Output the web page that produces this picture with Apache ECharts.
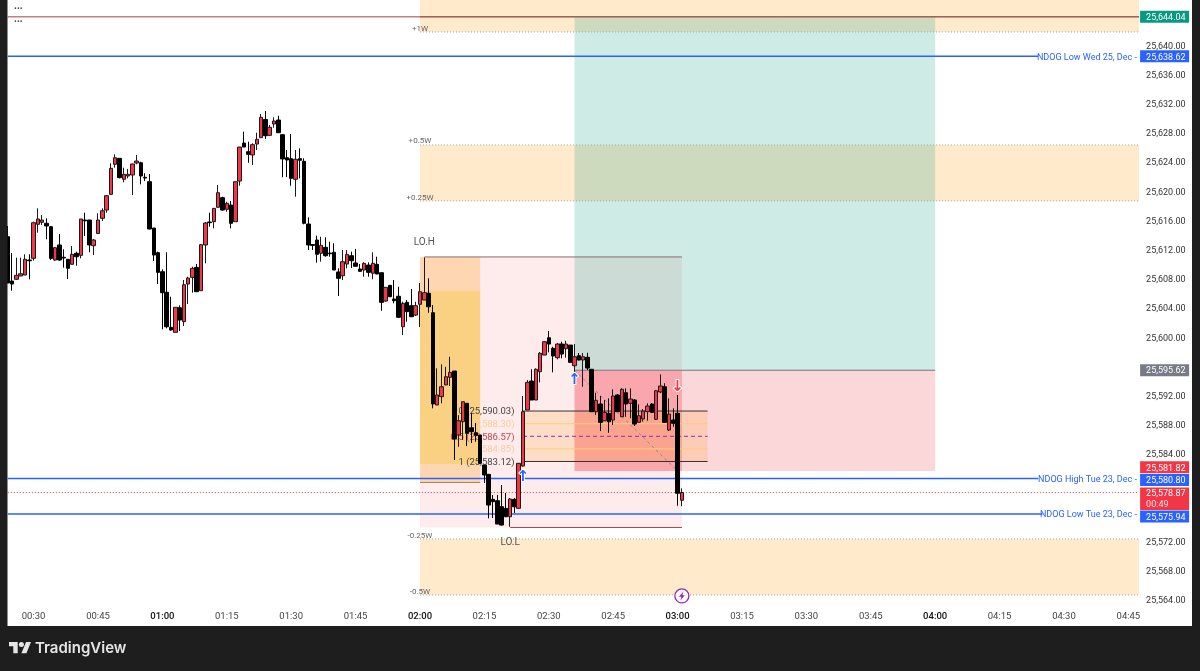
<!DOCTYPE html>
<html><head><meta charset="utf-8">
<style>html,body{margin:0;padding:0;background:#1e1e1e}#c{width:1200px;height:671px}</style>
<script src="https://cdn.jsdelivr.net/npm/echarts@6/dist/echarts.min.js"></script>
</head><body><div id="c"></div>
<script>
// One-minute slots on the time axis, 00:24 to 04:47
const firstMinute = 24, slotCount = 264;
const timeSlots = [];
for (let i = 0; i < slotCount; i++) {
  const m = firstMinute + i;
  timeSlots.push(String(Math.floor(m / 60)).padStart(2, '0') + ':' + String(m % 60).padStart(2, '0'));
}
const timeTicks = ['00:30','00:45','01:00','01:15','01:30','01:45','02:00','02:15','02:30','02:45','03:00','03:15','03:30','03:45','04:00','04:15','04:30','04:45'];
const priceTicks = [25564,25568,25572,25584,25588,25592,25600,25604,25608,25612,25616,25620,25624,25628,25632,25636,25640];
const priceMax = 25646.34, priceMin = 25563.46;

// One row per minute from 00:24: open, close, low, high
const ohlc = [
[25613.91,25607.57,25607.57,25615.38],[25607.84,25607.43,25606.51,25611.68],[25608.08,25608.62,25607.98,25611.04],[25608.53,25608.84,25608.53,25611.04],
[25608.66,25610.82,25608.66,25611.50],[25610.72,25610.62,25608.08,25611.50],[25610.95,25615.83,25610.62,25615.97],[25615.61,25616.34,25614.46,25617.80],
[25615.88,25616.20,25615.52,25616.88],[25615.75,25615.38,25613.56,25616.43],[25615.28,25610.95,25610.72,25615.38],[25610.72,25612.41,25610.62,25612.50],
[25612.78,25610.72,25610.62,25614.28],[25611.09,25611.00,25609.67,25612.19],[25610.82,25609.58,25608.12,25610.86],[25610.13,25611.50,25610.13,25612.64],
[25611.64,25611.17,25609.94,25611.86],[25611.36,25616.34,25610.95,25616.34],[25616.20,25616.09,25614.01,25617.20],[25616.20,25612.78,25611.78,25616.20],
[25612.68,25613.46,25611.40,25613.60],[25614.35,25616.20,25614.32,25617.12],[25616.43,25617.47,25616.06,25617.80],[25617.57,25619.53,25617.20,25619.63],
[25619.72,25623.28,25619.63,25623.97],[25623.83,25624.73,25623.37,25625.20],[25624.65,25622.00,25621.91,25624.65],[25621.78,25622.46,25621.37,25623.37],
[25622.23,25622.46,25621.91,25623.19],[25622.37,25623.87,25619.63,25623.94],[25624.01,25624.28,25623.83,25625.11],[25624.05,25622.23,25621.09,25624.19],
[25622.05,25621.95,25621.54,25622.60],[25621.45,25614.97,25614.90,25622.50],[25615.10,25611.40,25610.58,25615.10],[25611.72,25609.03,25607.43,25611.86],
[25609.12,25606.24,25601.22,25609.45],[25606.30,25601.58,25601.36,25611.78],[25601.50,25601.13,25601.03,25605.69],[25600.81,25604.24,25600.81,25604.28],
[25604.18,25602.50,25600.99,25604.51],[25602.27,25607.34,25601.68,25607.98],[25607.43,25608.25,25604.69,25608.43],[25608.35,25609.58,25606.24,25609.80],
[25609.72,25606.38,25606.34,25610.17],[25606.52,25612.82,25606.47,25612.91],[25612.78,25615.79,25610.27,25615.93],[25615.93,25615.84,25615.28,25617.20],
[25615.97,25617.80,25615.06,25617.84],[25617.94,25619.94,25617.91,25620.99],[25619.26,25617.57,25617.47,25619.39],[25617.66,25618.49,25617.34,25618.71],
[25618.25,25615.75,25615.06,25618.80],[25615.97,25621.45,25615.97,25621.45],[25621.54,25626.20,25620.90,25626.20],[25626.75,25626.20,25626.20,25628.30],
[25625.56,25625.20,25624.05,25626.93],[25625.11,25626.52,25623.73,25626.71],[25626.61,25627.26,25625.79,25628.16],[25627.48,25630.27,25627.43,25630.72],
[25629.98,25627.75,25627.30,25631.13],[25627.80,25628.90,25627.71,25629.22],[25629.35,25629.76,25628.85,25630.27],[25629.90,25628.16,25628.12,25630.49],
[25627.89,25624.56,25622.05,25627.89],[25624.73,25624.42,25622.09,25625.79],[25624.60,25621.91,25620.90,25627.98],[25621.78,25624.52,25619.39,25625.79],
[25624.60,25624.38,25621.91,25626.02],[25624.24,25615.75,25615.61,25624.65],[25615.65,25612.78,25612.09,25616.57],[25612.83,25612.72,25612.09,25612.86],
[25613.46,25611.50,25610.35,25614.05],[25611.64,25612.73,25610.49,25613.91],[25612.46,25611.31,25611.17,25613.83],[25611.68,25611.58,25611.17,25613.23],
[25611.78,25609.35,25609.35,25613.01],[25609.08,25608.21,25605.79,25609.58],[25608.57,25610.49,25607.98,25612.09],[25610.17,25611.50,25609.58,25612.09],
[25611.31,25610.62,25609.62,25611.86],[25610.31,25609.86,25609.83,25612.23],[25609.49,25609.17,25609.14,25610.17],[25609.35,25610.27,25608.43,25610.40],
[25610.03,25609.03,25608.43,25610.40],[25608.90,25610.27,25608.08,25611.78],[25610.13,25608.80,25608.80,25611.17],[25608.98,25604.92,25603.77,25608.98],
[25605.10,25606.98,25605.01,25607.02],[25607.25,25605.69,25605.65,25607.30],[25605.38,25605.14,25604.79,25607.98],[25605.75,25602.87,25602.77,25607.06],
[25601.58,25604.79,25600.45,25605.01],[25604.92,25603.64,25602.27,25605.24],[25604.46,25602.95,25602.91,25606.75],[25603.18,25604.46,25603.05,25605.01],
[25604.65,25606.38,25601.54,25607.57],[25605.24,25606.24,25605.24,25611.06],[25606.16,25604.32,25603.50,25608.21],[25603.50,25591.00,25590.40,25604.55],
[25590.86,25592.23,25590.86,25595.88],[25592.00,25593.36,25591.09,25596.43],[25593.60,25594.73,25593.60,25596.10],[25594.65,25595.33,25593.46,25597.47],
[25595.51,25586.20,25583.32,25595.51],[25586.75,25588.70,25585.14,25589.48],[25588.57,25591.31,25586.06,25591.31],[25591.09,25586.98,25585.24,25591.13],
[25587.74,25587.20,25585.65,25589.72],[25587.06,25586.70,25585.83,25588.39],[25586.75,25582.87,25582.84,25586.75],[25582.63,25581.27,25580.17,25582.63],
[25581.36,25577.15,25575.33,25581.40],[25577.93,25577.61,25575.37,25578.53],[25577.75,25574.55,25574.55,25578.53],[25576.92,25574.41,25574.37,25579.89],
[25576.70,25575.55,25575.51,25578.80],[25575.55,25577.98,25574.18,25578.12],[25577.93,25576.92,25576.06,25578.12],[25576.70,25582.87,25576.70,25582.91],
[25582.50,25589.94,25582.40,25592.09],[25590.17,25593.96,25590.17,25594.28],[25594.14,25591.54,25591.54,25595.75],[25591.54,25595.75,25591.54,25595.88],
[25595.42,25597.94,25593.96,25598.12],[25597.70,25599.53,25597.70,25599.62],[25600.07,25599.21,25598.07,25601.00],[25598.62,25597.57,25595.33,25598.84],
[25597.34,25599.21,25597.11,25599.35],[25599.21,25597.84,25597.25,25599.53],[25598.57,25599.21,25597.34,25599.66],[25599.07,25596.70,25596.68,25599.07],
[25596.24,25597.47,25595.42,25599.21],[25597.61,25597.02,25596.95,25597.98],[25597.02,25597.47,25593.36,25597.98],[25597.39,25595.92,25595.65,25598.02],
[25595.75,25589.94,25589.90,25595.79],[25589.94,25591.50,25589.49,25592.54],[25590.99,25588.48,25587.29,25592.09],[25588.70,25589.85,25588.66,25591.54],
[25589.72,25588.57,25587.06,25591.77],[25588.80,25592.09,25588.12,25593.01],[25592.23,25589.94,25589.90,25592.36],[25589.25,25593.01,25589.21,25593.14],
[25592.54,25590.99,25589.25,25593.14],[25591.09,25591.68,25589.03,25593.14],[25591.54,25588.25,25587.98,25591.68],[25588.49,25589.39,25588.39,25590.95],
[25588.94,25590.03,25588.57,25590.31],[25589.94,25590.72,25588.70,25591.09],[25590.99,25589.85,25589.76,25591.13],[25588.90,25592.81,25588.80,25592.91],
[25592.64,25593.46,25592.50,25595.06],[25593.36,25588.48,25588.39,25593.83],[25587.43,25589.62,25587.29,25591.77],[25588.80,25588.35,25587.88,25590.40],
[25589.72,25578.76,25577.06,25592.23],[25577.81,25578.87,25577.00,25579.44]
];

// Named price levels
const weekHigh = 25644.04, ndogWed = 25638.62, entryLevel = 25595.62, stopLevel = 25581.82;
const ndogHigh = 25580.80, lastPrice = 25578.87, ndogLow = 25575.94;
const fibLevels = [25590.03, 25588.30, 25586.57, 25584.85, 25583.12];
const fibNames = ['0', '0.25', '0.5', '0.75', '1'];
const loHigh = 25611.14, loLow = 25574.08;
const sessionInnerTop = 25606.48, sessionInnerBottom = 25582.78, sessionBottom = 25580.25;
const weekZones = [[priceMax, 25641.96], [25626.48, 25618.81], [25572.51, 25564.84]];

const fmt = v => v.toLocaleString('en-US', {minimumFractionDigits: 2, maximumFractionDigits: 2});
const FONT = 'Roboto';
const RED = '#f23645', BLUE = '#2962ff';
const ZONE = 'rgba(255,152,0,0.2)', DOT = '#a8a8a8';

const under = [];
const rect = (from, to, top, bottom, fill) => under.push({k:'rect', from, to, top, bottom, fill});
const line = (from, to, a, b, color, width, dash) => under.push({k:'line', from, to, a, b, color, width, dash});
const text = (list, at, v, t, color, size, align) => list.push({k:'text', at, v, t, color, size, align});

weekZones.forEach(z => rect('02:00', 'END', z[0], z[1], ZONE));
rect('02:00', '03:01', loHigh, loLow, 'rgba(242,54,69,0.1)');
rect('02:36', '04:00', weekHigh, entryLevel, 'rgba(8,153,129,0.2)');
rect('02:36', '04:00', entryLevel, stopLevel, 'rgba(242,54,69,0.2)');
rect('02:36', '03:01', entryLevel, stopLevel, 'rgba(242,54,69,0.22)');
rect('02:00', '02:14', loHigh, sessionBottom, 'rgba(255,152,0,0.25)');
rect('02:00', '02:14', sessionInnerTop, sessionInnerBottom, 'rgba(245,200,60,0.4)');
rect('02:24', '03:07', fibLevels[0], fibLevels[4], 'rgba(255,152,0,0.16)');

[weekZones[0][1], weekZones[1][0], weekZones[1][1], weekZones[2][0], weekZones[2][1]].forEach(v =>
  line('02:00', 'END', v, v, DOT, 1, [1, 2]));
line('00:24', 'END', weekHigh, weekHigh, '#c47f80', 1.5);
line('02:00', 'END', weekHigh, weekHigh, '#8a5a4a', 1);
line('02:36', '04:00', entryLevel, entryLevel, '#77777f', 1);
line('02:01', '03:01', loHigh, loHigh, '#8b6a6a', 1);
line('02:21', '03:01', loLow, loLow, '#a04a50', 1);
line('02:00', '02:14', sessionBottom, sessionBottom, '#a08540', 1);
line('00:24', '04:24', ndogWed, ndogWed, BLUE, 1.5);
line('00:24', '04:24', ndogHigh, ndogHigh, BLUE, 1.5);
line('00:24', '04:25', ndogLow, ndogLow, BLUE, 1.5);
line('00:24', 'END', lastPrice, lastPrice, RED, 1, [1, 2]);
line('02:36', '03:00', entryLevel, stopLevel, '#8a8a8a', 1, [3, 3]);
const fibColors = ['#333', '#ffcc80', '#9c27b0', '#ffcc80', '#333'];
const fibTextColors = ['#444', '#ffcc99', '#c5454f', '#ffcc99', '#444'];
fibLevels.forEach((v, i) => {
  line('02:24', '03:07', v, v, fibColors[i], 1, i === 2 ? [4, 3] : null);
  text(under, '02:22', v, fibNames[i] + ' (' + fmt(v) + ')', fibTextColors[i], 9.5, 'right');
});

text(under, '02:00', 25642.5, '+1W', '#666', 8, 'center');
text(under, '02:00', 25627.16, '+0.5W', '#666', 8, 'center');
text(under, '02:00', 25619.35, '+0.25W', '#666', 8, 'center');
text(under, '02:00', 25573.05, '-0.25W', '#666', 8, 'center');
text(under, '02:00', 25565.37, '-0.5W', '#666', 8, 'center');
text(under, '02:01', 25613.19, 'LO.H', '#555', 10, 'center');
text(under, '02:21', 25572.22, 'LO.L', '#555', 10, 'center');

const over = [];
text(over, '04:47', ndogWed, 'NDOG Low Wed 25, Dec -', BLUE, 9, 'right');
text(over, '04:47', ndogHigh, 'NDOG High Tue 23, Dec -', BLUE, 9, 'right');
text(over, '04:47', ndogLow, 'NDOG Low Tue 23, Dec -', BLUE, 9, 'right');
const arrow = (at, v, t, color) => over.push({k:'arrow', at, v, t, color});
arrow('02:24', 25581.0, '↑', BLUE);
arrow('02:36', 25594.28, '↑', BLUE);
arrow('03:00', 25593.3, '↓', RED);
over.push({k:'bolt', at:'03:01', v:25564.7});
const badge = (shownAt, price, fill, sub) => over.push({k:'badge', v:shownAt, t:fmt(price), fill, sub});
badge(weekHigh, weekHigh, '#089981');
badge(ndogWed, ndogWed, BLUE);
badge(entryLevel, entryLevel, '#787b86');
badge(25582.32, stopLevel, RED);
badge(25578.0, lastPrice, RED, '00:49');
badge(25580.58, ndogHigh, BLUE);
badge(25575.58, ndogLow, BLUE);

const slot = t => timeSlots.indexOf(t);
function render(rows) {
  return function (params, api) {
    const r = rows[params.dataIndex], cs = params.coordSys;
    const xOf = t => t === 'END' ? cs.x + cs.width : api.coord([slot(t), priceMin])[0];
    const yOf = v => api.coord([0, v])[1];
    if (r.k === 'rect') {
      const y0 = yOf(r.top), x0 = xOf(r.from);
      return {type:'rect', shape:{x:x0, y:y0, width:xOf(r.to)-x0, height:yOf(r.bottom)-y0}, style:{fill:r.fill}};
    }
    if (r.k === 'line') {
      return {type:'line', shape:{x1:xOf(r.from), y1:yOf(r.a), x2:xOf(r.to), y2:yOf(r.b)},
        style:{stroke:r.color, lineWidth:r.width, lineDash:r.dash || null}};
    }
    if (r.k === 'text') {
      return {type:'text', style:{x:xOf(r.at), y:yOf(r.v)+1, text:r.t, fill:r.color, align:r.align, verticalAlign:'middle', font:r.size+'px '+FONT}};
    }
    if (r.k === 'arrow') {
      return {type:'text', style:{x:xOf(r.at), y:yOf(r.v), text:r.t, fill:r.color, stroke:'#fff', lineWidth:2, align:'center', verticalAlign:'middle', font:'bold 15px "DejaVu Sans"'}};
    }
    if (r.k === 'bolt') {
      const cx = xOf(r.at), cy = yOf(r.v);
      return {type:'group', children:[
        {type:'circle', shape:{cx, cy, r:7}, style:{fill:'#fff', stroke:'#9c27b0', lineWidth:1.3}},
        {type:'polygon', shape:{points:[[cx+1.5,cy-4.5],[cx-3,cy+0.8],[cx-0.5,cy+0.8],[cx-1.5,cy+4.5],[cx+3,cy-0.8],[cx+0.5,cy-0.8]]}, style:{fill:'#9c27b0'}}
      ]};
    }
    const x = cs.x + cs.width + 1, cy = yOf(r.v), h = r.sub ? 22.5 : 12;
    const kids = [{type:'rect', shape:{x, y:cy-h/2, width:49, height:h}, style:{fill:r.fill}},
      {type:'text', style:{x:x+6, y:(r.sub ? cy-5.8 : cy)+1, text:r.t, fill:'#fff', align:'left', verticalAlign:'middle', font:'9px '+FONT}}];
    if (r.sub) kids.push({type:'text', style:{x:x+6, y:cy+5.8, text:r.sub, fill:'#ffe0e3', align:'left', verticalAlign:'middle', font:'9px '+FONT}});
    return {type:'group', children:kids};
  };
}
const anchors = rows => rows.map(r => [slot(r.from || r.at || '00:24'), r.top ?? r.a ?? r.v]);
const layer = (rows, z) => ({type:'custom', z, silent:true, clip:false, renderItem:render(rows), data:anchors(rows), encode:{x:0, y:1}});

const chart = echarts.init(document.getElementById('c'), null, {renderer:'canvas'});
chart.setOption({
  animation:false,
  backgroundColor:'#ffffff',
  textStyle:{fontFamily:FONT},
  grid:{left:5.7, width:1133.4, top:0, height:605, containLabel:false, outerBoundsMode:'none'},
  xAxis:{type:'category', data:timeSlots, boundaryGap:true, axisLine:{show:false}, axisTick:{show:false}, splitLine:{show:false},
    axisLabel:{interval:(i, v) => timeTicks.includes(v), margin:7, fontFamily:FONT,
      formatter:v => v.endsWith(':00') ? '{h|'+v+'}' : '{m|'+v+'}',
      rich:{h:{fontSize:9.5, color:'#111', fontWeight:500, fontFamily:FONT}, m:{fontSize:9.5, color:'#444', fontFamily:FONT}}}},
  yAxis:{type:'value', position:'right', min:priceMin, max:priceMax, axisLine:{show:false}, axisTick:{show:false}, splitLine:{show:false},
    axisLabel:{customValues:priceTicks, formatter:v => fmt(v), margin:7, fontSize:9, padding:[2,0,0,0], color:'#333', fontFamily:FONT}},
  series:[
    layer(under, 1),
    {type:'candlestick', z:2, silent:true, data:ohlc, barWidth:4,
      itemStyle:{color:RED, color0:'#000', borderColor:'#1a1a1a', borderColor0:'#000', borderWidth:1}},
    layer(over, 3)
  ],
  graphic:{z:100, elements:[
    {type:'rect', z:100, shape:{x:0, y:0, width:7.5, height:671}, style:{fill:'#1e1e1e'}},
    {type:'rect', z:100, shape:{x:1192, y:0, width:8, height:671}, style:{fill:'#1e1e1e'}},
    {type:'rect', z:100, shape:{x:0, y:626, width:1200, height:45}, style:{fill:'#1e1e1e'}},
    {type:'polygon', z:101, shape:{points:[[9,642],[17.7,642],[17.7,653.2],[13.3,653.2],[13.3,646.3],[9,646.3]]}, style:{fill:'#e6e6e6'}},
    {type:'polygon', z:101, shape:{points:[[26.4,653.2],[21.4,653.2],[26.05,642],[31,642]]}, style:{fill:'#e6e6e6'}},
    {type:'circle', z:101, shape:{cx:21.4, cy:644.5, r:2.5}, style:{fill:'#e6e6e6'}},
    {type:'text', z:101, x:35, y:648, style:{text:'TradingView', fill:'#e6e6e6', font:'600 15px Inter', verticalAlign:'middle', align:'left'}},
    {type:'text', z:101, x:14, y:6, style:{text:'...', fill:'#444', font:'bold 10px '+FONT, verticalAlign:'middle', align:'left'}},
    {type:'text', z:101, x:14, y:19, style:{text:'...', fill:'#444', font:'bold 10px '+FONT, verticalAlign:'middle', align:'left'}}
  ]}
});
</script>
</body></html>
